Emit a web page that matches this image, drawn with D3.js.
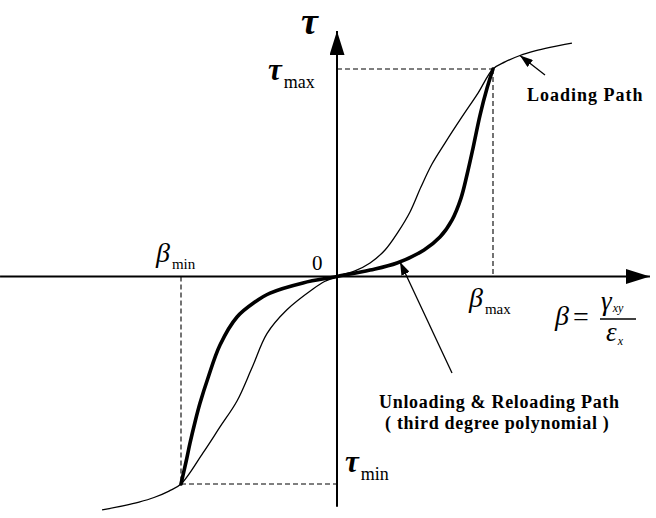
<!DOCTYPE html>
<html>
<head>
<meta charset="utf-8">
<script src="https://cdn.jsdelivr.net/npm/d3@7/dist/d3.min.js"></script>
<style>
  html, body { margin: 0; padding: 0; background: #fff; }
  svg { display: block; }
  .math { font-family: "Liberation Serif", "DejaVu Serif", serif; font-style: italic; }
  .roman { font-family: "Liberation Serif", "DejaVu Serif", serif; }
  .note { font-family: "Liberation Serif", "DejaVu Serif", serif; font-weight: bold; }
</style>
</head>
<body>
<svg id="chart" width="656" height="518"></svg>
<script>
// Normalised shear response: beta = gamma_xy / eps_x, tau in units of tau_max.
const betaLimits = [-1, 1];   // beta_min, beta_max
const tauLimits  = [-1, 1];   // tau_min, tau_max

// Envelope (loading path), thin line
const loadingPath = [
  [-1.506, -1.125], [-1.365, -1.104], [-1.269, -1.087], [-1.173, -1.065],
  [-1.077, -1.034], [-1.000, -1.000], [-0.859, -0.850], [-0.750, -0.725],
  [-0.641, -0.600], [-0.545, -0.440], [-0.449, -0.275], [-0.321, -0.160],
  [-0.154, -0.060], [-0.080, -0.024], [0, 0],
  [0.115, 0.027], [0.212, 0.065], [0.308, 0.128], [0.391, 0.214],
  [0.468, 0.311], [0.538, 0.431], [0.609, 0.542], [0.692, 0.643],
  [0.801, 0.769], [0.904, 0.884], [1.000, 1.000], [1.077, 1.034],
  [1.173, 1.065], [1.269, 1.087], [1.365, 1.104], [1.506, 1.125]
];

// Unloading / reloading cubic between the two turning points, thick line
const reloadPath = [
  [-1.000, -1.000], [-0.968, -0.894], [-0.942, -0.802], [-0.910, -0.701],
  [-0.878, -0.610], [-0.827, -0.489], [-0.750, -0.330], [-0.641, -0.195],
  [-0.526, -0.123], [-0.429, -0.080], [-0.218, -0.031], [0, 0],
  [0.212, 0.031], [0.385, 0.065], [0.558, 0.128], [0.660, 0.190],
  [0.737, 0.272], [0.795, 0.378], [0.833, 0.489], [0.872, 0.619],
  [0.917, 0.778], [0.962, 0.908], [1.000, 1.000]
];

const svg = d3.select("#chart");
const x = d3.scaleLinear().domain(betaLimits).range([181, 493]);
const y = d3.scaleLinear().domain(tauLimits).range([484, 69]);
const x0 = x(0), y0 = y(0);

// arrow head markers
const defs = svg.append("defs");
function marker(id, w, h) {
  defs.append("marker")
    .attr("id", id).attr("viewBox", `0 0 ${w} ${h}`)
    .attr("refX", w).attr("refY", h / 2)
    .attr("markerWidth", w).attr("markerHeight", h)
    .attr("markerUnits", "userSpaceOnUse")
    .attr("orient", "auto")
    .append("path").attr("d", `M0,0L${w},${h / 2}L0,${h}Z`).attr("fill", "#000");
}
marker("axisHead", 24, 15);
marker("noteHead", 13, 9);

// dashed guides to the turning points
const guides = [
  [[x0, y(tauLimits[1])], [x(betaLimits[1]), y(tauLimits[1])]],
  [[x(betaLimits[1]), y(tauLimits[1])], [x(betaLimits[1]), y0]],
  [[x(betaLimits[0]), y0], [x(betaLimits[0]), y(tauLimits[0])]],
  [[x(betaLimits[0]), y(tauLimits[0])], [x0, y(tauLimits[0])]]
];
svg.append("g").selectAll("line").data(guides).join("line")
  .attr("x1", d => d[0][0]).attr("y1", d => d[0][1])
  .attr("x2", d => d[1][0]).attr("y2", d => d[1][1])
  .attr("stroke", "#000").attr("stroke-width", 1.1)
  .attr("stroke-dasharray", "5,3");

// axes
svg.append("line")
  .attr("x1", x(-2.16)).attr("y1", y0).attr("x2", x(2.006)).attr("y2", y0)
  .attr("stroke", "#000").attr("stroke-width", 2).attr("marker-end", "url(#axisHead)");
svg.append("line")
  .attr("x1", x0).attr("y1", y(-1.11)).attr("x2", x0).attr("y2", y(1.183))
  .attr("stroke", "#000").attr("stroke-width", 2).attr("marker-end", "url(#axisHead)");

// curves
const line = d3.line().x(d => x(d[0])).y(d => y(d[1])).curve(d3.curveCatmullRom.alpha(0.5));
svg.append("path").datum(loadingPath).attr("d", line)
  .attr("fill", "none").attr("stroke", "#000").attr("stroke-width", 1.3);
svg.append("path").datum(reloadPath).attr("d", line)
  .attr("fill", "none").attr("stroke", "#000").attr("stroke-width", 3.6)
  .attr("stroke-linejoin", "round").attr("stroke-linecap", "round");

// annotation arrows
const notes = [
  { tip: [1.173, 1.065], tail: [545, 75] },
  { tip: [0.404, 0.070], tail: [452, 373] }
];
svg.append("g").selectAll("line").data(notes).join("line")
  .attr("x1", d => d.tail[0]).attr("y1", d => d.tail[1])
  .attr("x2", d => x(d.tip[0])).attr("y2", d => y(d.tip[1]))
  .attr("stroke", "#000").attr("stroke-width", 1.3).attr("marker-end", "url(#noteHead)");

// symbol labels
function sym(xp, yp, main, sub, size, subSize, bold) {
  const t = svg.append("text").attr("x", xp).attr("y", yp);
  t.append("tspan").attr("class", "math").attr("font-size", size)
    .attr("font-weight", bold ? "bold" : "normal").text(main);
  if (sub) t.append("tspan").attr("class", "roman").attr("font-size", subSize)
    .attr("dx", 2).attr("dy", subSize * 0.45).text(sub);
  return t;
}
sym(301, 34, "τ", null, 38, 0, true);
sym(268, 80, "τ", "max", 31, 18, true);
sym(345, 472, "τ", "min", 31, 18, true);
sym(156, 262, "β", "min", 28, 15);
sym(469, 307, "β", "max", 28, 15);
svg.append("text").attr("class", "roman").attr("x", 312).attr("y", 270)
  .attr("font-size", 21).text("0");

// beta definition
svg.append("text").attr("class", "math").attr("x", 555).attr("y", 325)
  .attr("font-size", 28).text("β");
svg.append("text").attr("class", "roman").attr("x", 573).attr("y", 326)
  .attr("font-size", 28).text("=");
svg.append("line").attr("x1", 600).attr("x2", 636).attr("y1", 319).attr("y2", 319)
  .attr("stroke", "#000").attr("stroke-width", 1.3);
const num = svg.append("text").attr("x", 601).attr("y", 310);
num.append("tspan").attr("class", "math").attr("font-size", 27).text("γ");
num.append("tspan").attr("class", "math").attr("font-size", 12).attr("dx", 1).attr("dy", 2).text("xy");
const den = svg.append("text").attr("x", 606).attr("y", 341);
den.append("tspan").attr("class", "math").attr("font-size", 27).text("ε");
den.append("tspan").attr("class", "math").attr("font-size", 12).attr("dx", 1).attr("dy", 4).text("x");

// path notes
svg.append("text").attr("class", "note").attr("x", 527).attr("y", 101)
  .attr("font-size", 18).attr("letter-spacing", 1).text("Loading Path");
svg.append("text").attr("class", "note").attr("x", 379).attr("y", 408)
  .attr("font-size", 18).attr("letter-spacing", 0.7).text("Unloading & Reloading Path");
svg.append("text").attr("class", "note").attr("x", 385).attr("y", 429)
  .attr("font-size", 18).attr("letter-spacing", 0.7).text("( third degree polynomial )");
</script>
</body>
</html>
